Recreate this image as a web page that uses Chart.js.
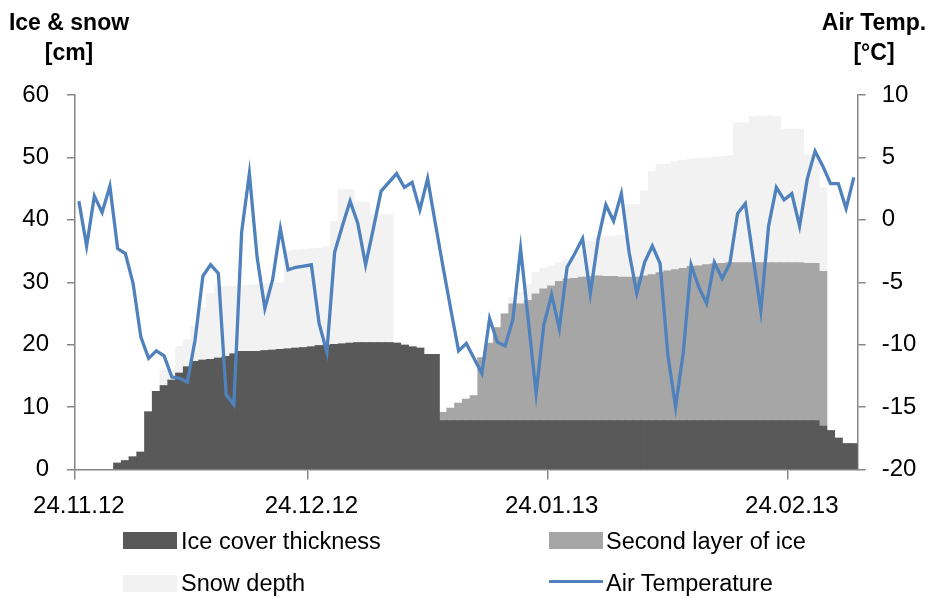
<!DOCTYPE html>
<html>
<head>
<meta charset="utf-8">
<script src="https://cdn.jsdelivr.net/npm/chart.js@4.4.1/dist/chart.umd.min.js"></script>
<style>
  html, body { margin: 0; padding: 0; background: #fff; }
  #wrap { position: relative; width: 932px; height: 598px; font-family: 'Liberation Sans', Arial, sans-serif; color: #000; }
  #chart { position: absolute; left: 0; top: 0; }
  .ttl { position: absolute; font-weight: bold; font-size: 23px; line-height: 30px; text-align: center; white-space: nowrap; }
  .leg { position: absolute; font-size: 23.5px; line-height: 24px; white-space: nowrap; }
  .box { position: absolute; width: 54px; height: 17px; }
  .ln { position: absolute; width: 54px; height: 3px; background: #4f81bd; }
</style>
</head>
<body>
<div id="wrap">
  <canvas id="chart" width="932" height="598"></canvas>
  <div class="ttl" style="left:4px;top:7px;width:130px">Ice &amp; snow<br>[cm]</div>
  <div class="ttl" style="left:812px;top:7px;width:124px">Air Temp.<br>[°C]</div>

  <div class="box" style="left:123px;top:532px;background:#595959"></div>
  <div class="leg" style="left:181px;top:529px">Ice cover thickness</div>
  <div class="box" style="left:549px;top:532px;background:#a6a6a6"></div>
  <div class="leg" style="left:606px;top:529px">Second layer of ice</div>
  <div class="box" style="left:123px;top:575px;background:#f2f2f2"></div>
  <div class="leg" style="left:181px;top:571px">Snow depth</div>
  <div class="ln" style="left:549px;top:580px"></div>
  <div class="leg" style="left:606px;top:571px">Air Temperature</div>
</div>
<script>
// ========== Data ==========
// one value per day, starting 24.11.2012 (101 days)
const startDate = new Date(2012, 10, 24);
const dayCount = 101;
const tickLabels = ['24.11.12', '24.12.12', '24.01.13', '24.02.13'];

const iceCover = [
  0, 0, 0, 0, 0, 1.0, 1.4, 2.0, 2.75, 9.2,
  12.5, 13.4, 14.3, 15.4, 16.4, 17.3, 17.5, 17.6, 17.8, 18.1,
  18.5, 18.9, 18.9, 18.9, 19.0, 19.1, 19.2, 19.3, 19.4, 19.5,
  19.6, 19.8, 19.9, 20.0, 20.1, 20.2, 20.3, 20.3, 20.3, 20.3,
  20.3, 20.2, 19.9, 19.6, 19.4, 18.4, 18.4, 7.8, 7.8, 7.8,
  7.8, 7.8, 7.8, 7.8, 7.8, 7.8, 7.8, 7.8, 7.8, 7.8,
  7.8, 7.8, 7.8, 7.8, 7.8, 7.8, 7.8, 7.8, 7.8, 7.8,
  7.8, 7.8, 7.8, 7.8, 7.8, 7.8, 7.8, 7.8, 7.8, 7.8,
  7.8, 7.8, 7.8, 7.8, 7.8, 7.8, 7.8, 7.8, 7.8, 7.8,
  7.8, 7.8, 7.8, 7.8, 7.8, 7.8, 6.9, 6.2, 5.0, 4.1,
  4.1
];

const secondLayer = [
  0, 0, 0, 0, 0, 0, 0, 0, 0, 0,
  0, 0, 0, 0, 0, 0, 0, 0, 0, 0,
  0, 0, 0, 0, 0, 0, 0, 0, 0, 0,
  0, 0, 0, 0, 0, 0, 0, 0, 0, 0,
  0, 0, 0, 0, 0, 0, 0, 1.3, 2.0, 2.8,
  3.45, 4.0, 10.1, 12.4, 14.9, 17.1, 18.7, 18.7, 19.25, 20.3,
  21.1, 21.6, 22.3, 22.7, 22.8, 23.0, 23.1, 23.2, 23.1, 23.1,
  23.0, 23.0, 23.0, 23.2, 23.4, 23.7, 24.0, 24.2, 24.4, 24.7,
  24.8, 25.0, 25.1, 25.2, 25.3, 25.3, 25.3, 25.3, 25.3, 25.3,
  25.3, 25.3, 25.3, 25.3, 25.2, 25.2, 24.8, 0, 0, 0,
  0
];

const snowDepth = [
  0, 0, 0, 0, 0, 0, 0, 0, 0, 0,
  0, 2.4, 1.5, 4.3, 4.4, 5.6, 8.4, 10.6, 11.4, 11.2,
  10.8, 10.5, 10.6, 10.7, 10.7, 10.7, 10.7, 15.7, 15.7, 15.7,
  15.7, 15.6, 15.8, 19.7, 24.7, 24.6, 22.5, 22.5, 20.5, 20.5,
  20.5, 0, 0, 0, 0, 0, 0, 0, 0, 0,
  0, 0, 0, 0, 0, 0, 1.0, 1.8, 2.5, 3.4,
  3.3, 3.2, 3.0, 3.1, 3.4, 4.2, 5.6, 6.2, 6.4, 6.5,
  6.7, 11.6, 11.6, 13.6, 16.5, 17.3, 17.1, 17.3, 17.3, 17.2,
  17.2, 17.1, 17.1, 17.1, 17.1, 22.4, 22.4, 23.4, 23.5, 23.5,
  23.4, 21.4, 21.4, 21.4, 17.4, 17.4, 13.4, 0, 0, 0,
  0
];

const airTemp = [
  1.5, -2.1, 1.9, 0.6, 2.7, -2.3, -2.7, -5.1, -9.4, -11.1,
  -10.5, -10.9, -12.6, -12.7, -13.0, -9.6, -4.5, -3.6, -4.3, -14.0,
  -14.8, -1.0, 3.7, -3.0, -7.1, -4.8, -0.7, -4.0, -3.8, -3.7,
  -3.6, -8.3, -10.6, -2.6, -0.5, 1.5, -0.3, -3.6, -0.7, 2.3,
  3.0, 3.7, 2.6, 3.0, 0.8, 3.3, -0.3, -3.8, -7.2, -10.5,
  -9.9, -11.1, -12.3, -7.9, -9.8, -10.1, -8.0, -2.3, -8.1, -13.9,
  -8.4, -6.0, -8.7, -3.8, -2.7, -1.5, -5.9, -1.6, 1.2, -0.1,
  2.1, -2.6, -5.9, -3.4, -2.1, -3.5, -10.8, -15.0, -10.6, -3.6,
  -5.4, -6.7, -3.4, -4.7, -3.5, 0.5, 1.3, -3.0, -7.3, -0.5,
  2.6, 1.6, 2.1, -0.5, 3.3, 5.5, 4.3, 2.9, 2.9, 0.9,
  3.4
];

// ========== Labels ==========
function fmtDate(d) {
  const dd = String(d.getDate()).padStart(2, '0');
  const mm = String(d.getMonth() + 1).padStart(2, '0');
  const yy = String(d.getFullYear()).slice(-2);
  return `${dd}.${mm}.${yy}`;
}
const dayLabels = [];
for (let i = 0; i < dayCount; i++) {
  dayLabels.push(fmtDate(new Date(startDate.getFullYear(), startDate.getMonth(), startDate.getDate() + i)));
}

const axisColor = '#868686';
const tickFont = { family: "'Liberation Sans', Arial, sans-serif", size: 24 };

// bars touch each other, like Excel with gap width 0
const barStyle = {
  yAxisID: 'y',
  barPercentage: 1,
  categoryPercentage: 1,
  borderWidth: 0,
  inflateAmount: 0.6
};

// ========== Chart ==========
new Chart(document.getElementById('chart'), {
  type: 'bar',
  data: {
    labels: dayLabels,
    datasets: [
      {
        type: 'line',
        label: 'Air Temperature',
        data: airTemp,
        yAxisID: 'y1',
        borderColor: '#4f81bd',
        borderWidth: 3.3,
        pointRadius: 0,
        tension: 0,
        order: 0
      },
      { ...barStyle, label: 'Ice cover thickness', data: iceCover, backgroundColor: '#595959', order: 1 },
      { ...barStyle, label: 'Second layer of ice', data: secondLayer, backgroundColor: '#a6a6a6', order: 2 },
      { ...barStyle, label: 'Snow depth', data: snowDepth, backgroundColor: '#f2f2f2', order: 3 }
    ]
  },
  options: {
    responsive: false,
    animation: false,
    layout: { padding: { top: 95, left: 0, right: 0, bottom: 0 } },
    plugins: {
      legend: { display: false },
      tooltip: { enabled: false }
    },
    scales: {
      x: {
        type: 'category',
        stacked: true,
        offset: true,
        grid: {
          offset: true,
          drawOnChartArea: false,
          tickLength: 10,
          lineWidth: 1.5,
          color: ctx => (ctx.index !== undefined && tickLabels.includes(dayLabels[ctx.index])) ? axisColor : 'rgba(0,0,0,0)'
        },
        border: { color: axisColor, width: 1.5 },
        ticks: {
          autoSkip: false,
          maxRotation: 0,
          minRotation: 0,
          padding: 12,
          color: '#000',
          font: tickFont,
          callback: (value, index) => tickLabels.includes(dayLabels[index]) ? dayLabels[index] : ''
        },
        afterFit: scale => { scale.height = 128.5; }
      },
      y: {
        position: 'left',
        stacked: true,
        min: 0,
        max: 60,
        ticks: { stepSize: 10, padding: 18, color: '#000', font: tickFont },
        grid: { drawOnChartArea: false, tickLength: 8, color: axisColor, lineWidth: 1.5 },
        border: { color: axisColor, width: 1.5 },
        afterFit: scale => { scale.width = 75; }
      },
      y1: {
        position: 'right',
        min: -20,
        max: 10,
        ticks: { stepSize: 5, padding: 16, color: '#000', font: tickFont },
        grid: { drawOnChartArea: false, tickLength: 8, color: axisColor, lineWidth: 1.5 },
        border: { color: axisColor, width: 1.5 },
        afterFit: scale => { scale.width = 74.3; }
      }
    }
  }
});
</script>
</body>
</html>
